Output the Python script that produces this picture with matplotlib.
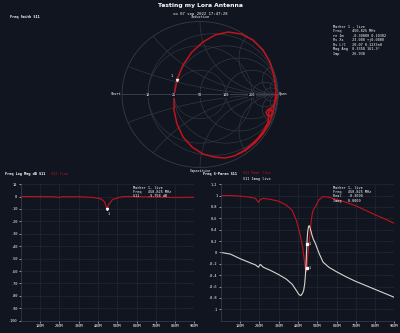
import numpy as np
import matplotlib
matplotlib.use("Agg")
import matplotlib.pyplot as plt
from matplotlib.patches import Circle

# ---- data ----
freq_mhz = [0, 50, 100, 150, 180, 195, 205, 220, 260, 300, 340, 370, 390, 405, 415, 425,
            430, 435, 439, 442, 446, 450, 455, 459, 463, 468, 473, 480, 490, 510, 530,
            560, 600, 650, 700, 750, 800, 850, 900]
s11_re = [1.00, 1.00, 0.99, 0.97, 0.95, 0.88, 0.93, 0.95, 0.93, 0.90, 0.83, 0.74, 0.58,
          0.40, 0.25, 0.08, -0.05, -0.20, -0.30, -0.34, -0.28, -0.10, 0.10, 0.22, 0.35,
          0.52, 0.66, 0.75, 0.80, 0.93, 0.98, 0.97, 0.93, 0.88, 0.82, 0.74, 0.66, 0.59, 0.51]
s11_im = [0.00, -0.03, -0.11, -0.18, -0.22, -0.26, -0.21, -0.26, -0.32, -0.39, -0.47,
          -0.56, -0.66, -0.74, -0.76, -0.71, -0.66, -0.55, -0.38, -0.20, 0.14, 0.35, 0.46,
          0.47, 0.43, 0.37, 0.30, 0.23, 0.16, -0.02, -0.17, -0.26, -0.34, -0.43, -0.51,
          -0.58, -0.65, -0.72, -0.79]
marker_index = 20

# Smith-chart trace as drawn in the reference (reflection coefficient, re / im)
smith_re = [0.987, 0.974, 0.949, 0.910, 0.872, 0.846, 0.872, 0.910, 0.929, 0.910, 0.885,
            0.872, 0.821, 0.744, 0.641, 0.538, 0.436, 0.321, 0.179, 0.038, -0.103, -0.218,
            -0.295, -0.333, -0.333, -0.295, -0.218, -0.103, 0.038, 0.192, 0.359, 0.526,
            0.679, 0.808, 0.897, 0.949, 0.974, 0.962, 0.936, 0.885, 0.808, 0.705, 0.590,
            0.487]
smith_im = [0.000, -0.075, -0.144, -0.185, -0.205, -0.247, -0.295, -0.288, -0.247, -0.205,
            -0.226, -0.377, -0.486, -0.596, -0.705, -0.788, -0.842, -0.870, -0.856, -0.815,
            -0.719, -0.582, -0.404, -0.212, -0.021, 0.199, 0.404, 0.582, 0.719, 0.815,
            0.856, 0.829, 0.747, 0.610, 0.445, 0.253, 0.062, -0.075, -0.240, -0.404,
            -0.541, -0.664, -0.760, -0.815]
smith_marker_index = 25

freq_ticks = [100, 200, 300, 400, 500, 600, 700, 800, 900]
freq_tick_labels = ["100M", "200M", "300M", "400M", "500M", "600M", "700M", "800M", "900M"]
logmag_ticks = [10, 0, -10, -20, -30, -40, -50, -60, -70, -80, -90, -100]
sparam_ticks = [1.2, 1, 0.8, 0.6, 0.4, 0.2, 0, -0.2, -0.4, -0.6, -0.8, -1]
sparam_tick_labels = ["1.2", "1", "0.8", "0.6", "0.4", "0.2", "0", "-0.2", "-0.4", "-0.6", "-0.8", "-1"]
smith_r_values = [10, 25, 50, 100, 250]

BG = "#11151f"
GRID = "#2a303c"
SMITH_GRID = "#353a46"
RED = "#c0141c"
IMAG = "#d8d4d0"
MONO = "DejaVu Sans Mono"

re = np.array(s11_re)
im = np.array(s11_im)
f = np.array(freq_mhz)
logmag = 20 * np.log10(np.hypot(re, im))

W, H = 400, 333
fig = plt.figure(figsize=(4.0, 3.33), dpi=100, facecolor=BG)

fig.text(0.5, 0.99, "Testing my Lora Antenna", ha="center", va="top", color="white",
         fontsize=4.3, fontweight="bold")
fig.text(0.5, 0.965, "vo 07 sep 2022 17:47:28", ha="center", va="top", color="white",
         fontsize=2.8, family=MONO)
fig.text(0.025, 0.955, "Freq Smith S11", ha="left", va="top", color="white",
         fontsize=2.6, family=MONO, fontweight="bold")
fig.text(0.833, 0.925,
         "Marker 1 , live\nFreq     450.825 MHz\nre Im    -0.30000 0.10302\nRs Xs    23.000 +j0.0000\n"
         "Rs L/C   20.07 0.1233nH\nMag Ang  0.3358 161.3°\nImp      26.938",
         ha="left", va="top", color="white", fontsize=2.5, family=MONO, linespacing=1.15)

# ---- Smith chart (centre 200,94.5 px; radii 78 x 73 px) ----
cx, cy, rx, ry = 200, 94.5, 78, 73
lim = 1.1
axs = fig.add_axes([(cx - rx * lim) / W, 1 - (cy + ry * lim) / H, 2 * rx * lim / W, 2 * ry * lim / H])
axs.set_facecolor(BG)
axs.set_xlim(-lim, lim)
axs.set_ylim(-lim, lim)
axs.axis("off")
clip = Circle((0, 0), 1.0, transform=axs.transData, facecolor="none", edgecolor="none")
axs.add_patch(clip)
t = np.linspace(0, 2 * np.pi, 400)
axs.plot(np.cos(t), np.sin(t), color=SMITH_GRID, lw=0.6)
for r in [0.2, 0.5, 1, 2, 5, 10]:
    c, rad = r / (1 + r), 1 / (1 + r)
    axs.plot(c + rad * np.cos(t), rad * np.sin(t), color=SMITH_GRID, lw=0.45)
for x in [0.2, 0.5, 1, 2, 5, 10, -0.2, -0.5, -1, -2, -5, -10]:
    rad = 1 / abs(x)
    ln, = axs.plot(1 + rad * np.cos(t), 1 / x + rad * np.sin(t), color=SMITH_GRID, lw=0.45)
    ln.set_clip_path(clip)
for g in [1/3, 2/3]:
    axs.plot(g * np.cos(t), g * np.sin(t), color=SMITH_GRID, lw=0.4)
axs.plot([-1, 1], [0, 0], color="#3e4450", lw=0.6)
axs.plot(smith_re, smith_im, color=RED, lw=1.1)
axs.plot(smith_re[smith_marker_index], smith_im[smith_marker_index], marker="v", ms=1.5,
         color="white")
axs.text(smith_re[smith_marker_index] - 0.06, smith_im[smith_marker_index] + 0.04, "1",
         color="white", fontsize=2.5, family=MONO, ha="right")
for rv in smith_r_values:
    rn = rv / 50
    g = (rn - 1) / (rn + 1)
    axs.text(g, -0.01, str(rv), color="white", fontsize=2.6, family=MONO, ha="center",
             va="center", bbox=dict(boxstyle="square,pad=0.1", fc=BG, ec="none"))
axs.text(-1.01, 0, "Short", color="white", fontsize=2.6, family=MONO, ha="right", va="center")
axs.text(1.01, 0, "Open", color="white", fontsize=2.6, family=MONO, ha="left", va="center")
axs.text(0, 1.03, "Inductive", color="white", fontsize=2.6, family=MONO, ha="center", va="bottom")
axs.text(0, -1.02, "Capacitive", color="white", fontsize=2.6, family=MONO, ha="center", va="top")


def style_axes(ax):
    ax.set_facecolor(BG)
    for s in ["top", "right"]:
        ax.spines[s].set_visible(False)
    for s in ["left", "bottom"]:
        ax.spines[s].set_color("#3a404c")
        ax.spines[s].set_linewidth(0.5)
    ax.grid(True, color=GRID, lw=0.5, ls=(0, (2, 1)))
    ax.tick_params(colors="white", labelsize=2.6, length=1.5, width=0.4, pad=1)
    for lab in ax.get_xticklabels() + ax.get_yticklabels():
        lab.set_family(MONO)
    ax.set_xlim(0, 900)
    ax.set_xticks(freq_ticks)
    ax.set_xticklabels(freq_tick_labels, family=MONO)


# ---- Log mag ----
ax1 = fig.add_axes([0.052, 0.037, 0.434, 0.41])
ax1.plot(f, logmag, color=RED, lw=0.8)
ax1.plot(f[marker_index], logmag[marker_index], marker="v", ms=1.5, color="white")
ax1.text(f[marker_index] + 5, logmag[marker_index] - 2, "1", color="white", fontsize=2.5,
         family=MONO, va="top")
ax1.set_ylim(-100, 10)
ax1.set_yticks(logmag_ticks)
ax1.set_yticklabels([str(v) for v in logmag_ticks])
style_axes(ax1)
fig.text(0.013, 0.478, "Freq Log Mag dB S11", color="white", fontsize=2.6, family=MONO,
         fontweight="bold", va="center")
fig.text(0.127, 0.478, "S11 live", color=RED, fontsize=2.6, family=MONO, va="center")
fig.text(0.333, 0.443, "Marker 1, live\nFreq   450.825 MHz\nS11    -9.758 dB", color="white",
         fontsize=2.5, family=MONO, va="top", linespacing=1.15)

# ---- S-param real / imag ----
ax2 = fig.add_axes([0.552, 0.037, 0.434, 0.41])
ax2.plot(f, re, color=RED, lw=0.8)
ax2.plot(f, im, color=IMAG, lw=0.8)
ax2.plot(f[marker_index], re[marker_index], marker="s", ms=1.4, color="white")
ax2.plot(f[marker_index], im[marker_index], marker="s", ms=1.4, color="white")
ax2.text(f[marker_index] + 8, re[marker_index], "1", color="white", fontsize=2.5, family=MONO,
         va="center")
ax2.text(f[marker_index] + 8, im[marker_index], "1", color="white", fontsize=2.5, family=MONO,
         va="center")
ax2.set_ylim(-1.2, 1.2)
ax2.set_yticks(sparam_ticks)
ax2.set_yticklabels(sparam_tick_labels)
style_axes(ax2)
fig.text(0.508, 0.478, "Freq S-Param S11", color="white", fontsize=2.6, family=MONO,
         fontweight="bold", va="center")
fig.text(0.607, 0.481, "S11 Real live", color=RED, fontsize=2.6, family=MONO, va="center")
fig.text(0.607, 0.463, "S11 Imag live", color="white", fontsize=2.6, family=MONO, va="center")
fig.text(0.833, 0.443, "Marker 1, live\nFreq   450.825 MHz\nReal   -0.3000\nImag   0.0000",
         color="white", fontsize=2.5, family=MONO, va="top", linespacing=1.15)

fig.savefig("out.png", dpi=100, facecolor=BG)
